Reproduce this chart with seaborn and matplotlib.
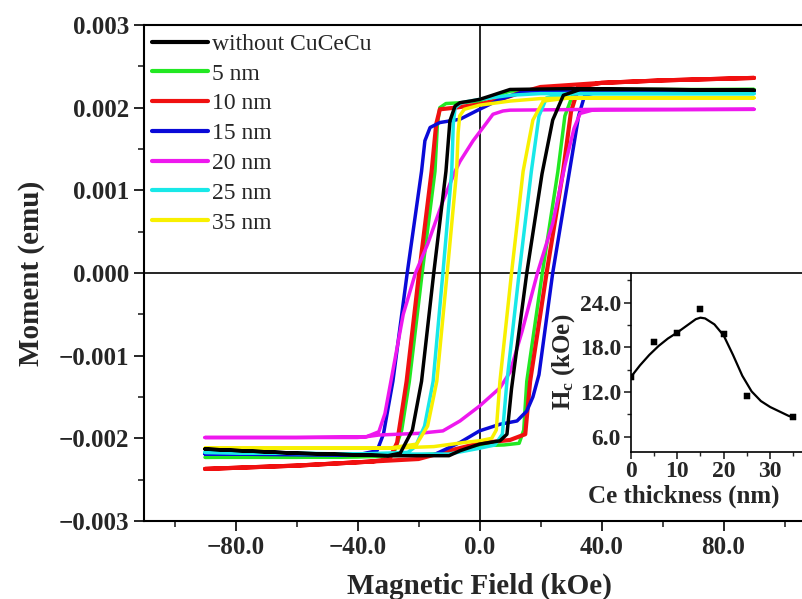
import numpy as np
import pandas as pd
import matplotlib
matplotlib.use("Agg")
import matplotlib.pyplot as plt
import seaborn as sns
from matplotlib.ticker import MultipleLocator, FuncFormatter

# ---------------- data (field in kOe, moment in 1e-3 emu) ----------------
samples = ["without CuCeCu", "5 nm", "10 nm", "15 nm", "20 nm", "25 nm", "35 nm"]
colors = ["#000000", "#22e822", "#f01010", "#0a0ad8", "#ee18ee", "#18e8e8", "#f8f000"]

black_desc_field = [90, 60, 30, 10, 6.7, 3.4, 0, -3, -6.4, -8, -9.7, -11, -15, -19, -22, -26, -30, -60, -90]
black_desc_moment = [2.21, 2.22, 2.23, 2.22, 2.18, 2.14, 2.10, 2.08, 2.06, 2.02, 1.84, 1.23, 0.0, -1.31, -1.9, -2.18, -2.21, -2.18, -2.13]
black_asc_field = [-90, -60, -30, -10, -6.4, 0, 6.7, 9, 10.5, 15.5, 20.5, 24, 27.5, 33, 60, 90]
black_asc_moment = [-2.13, -2.18, -2.21, -2.21, -2.15, -2.07, -2.03, -1.95, -1.4, 0.0, 1.2, 1.85, 2.15, 2.22, 2.22, 2.21]

green_desc_field = [90, 40, 20, 10, 5, 0, -6, -11, -13, -13.8, -14.6, -18.8, -23, -25.5, -28, -32, -60, -90]
green_desc_moment = [2.22, 2.22, 2.22, 2.2, 2.14, 2.08, 2.06, 2.05, 2.0, 1.8, 1.23, 0.0, -1.31, -1.9, -2.17, -2.22, -2.23, -2.23]
green_asc_field = [-90, -40, -20, -10, -5, 0, 8, 13, 14.5, 15.5, 20.6, 25.7, 28, 30.5, 35, 90]
green_asc_moment = [-2.23, -2.22, -2.2, -2.18, -2.12, -2.09, -2.08, -2.06, -1.9, -1.31, 0.0, 1.23, 1.9, 2.15, 2.21, 2.22]

red_desc_field = [90, 60, 40, 20, 13.4, 6.7, 0, -8, -13, -14.2, -15.7, -19.8, -23.9, -27, -29.5, -35, -60, -90]
red_desc_moment = [2.36, 2.33, 2.3, 2.25, 2.18, 2.1, 2.04, 2.0, 1.98, 1.8, 1.23, 0.0, -1.31, -2.05, -2.25, -2.28, -2.33, -2.37]
red_asc_field = [-90, -60, -35, -20, -10, 0, 10, 15, 16.6, 22, 27.4, 30, 32.5, 40, 60, 90]
red_asc_moment = [-2.37, -2.33, -2.28, -2.25, -2.15, -2.06, -2.02, -1.95, -1.31, 0.0, 1.23, 1.95, 2.25, 2.3, 2.33, 2.36]

blue_desc_field = [90, 40, 15, 6.7, 0, -6.4, -13, -16.2, -17.9, -19, -23.7, -28.4, -31.5, -33.6, -40, -90]
blue_desc_moment = [2.2, 2.21, 2.2, 2.1, 1.98, 1.86, 1.82, 1.76, 1.6, 1.23, 0.0, -1.31, -1.95, -2.15, -2.2, -2.19]
blue_asc_field = [-90, -40, -15, -6.4, 0, 6.7, 12.3, 15.5, 17.5, 19.5, 24, 29.5, 32.5, 34.5, 40, 90]
blue_asc_moment = [-2.19, -2.2, -2.2, -2.05, -1.91, -1.83, -1.79, -1.67, -1.5, -1.23, 0.0, 1.23, 1.9, 2.15, 2.2, 2.2]

magenta_desc_field = [90, 40, 10, 7.7, 4.4, 2.4, -2.1, -6.4, -8, -12, -17, -21, -25, -28.5, -31, -33, -37, -60, -90]
magenta_desc_moment = [1.98, 1.98, 1.97, 1.96, 1.92, 1.82, 1.6, 1.35, 1.23, 0.87, 0.35, 0.0, -0.5, -1.2, -1.7, -1.92, -1.98, -1.99, -1.99]
magenta_asc_field = [-90, -40, -37, -33, -20, -12, -6.4, 0, 6.7, 10, 14, 19, 24, 28, 31, 33, 37, 90]
magenta_asc_moment = [-1.99, -1.99, -1.98, -1.96, -1.94, -1.91, -1.79, -1.61, -1.39, -1.2, -0.7, 0.0, 0.6, 1.3, 1.75, 1.93, 1.97, 1.98]

cyan_desc_field = [90, 40, 20, 10, 0, -6, -8, -8.6, -9.1, -12, -15.2, -18, -21, -23.5, -40, -90]
cyan_desc_moment = [2.17, 2.17, 2.17, 2.15, 2.1, 2.06, 2.0, 1.8, 1.23, 0.0, -1.31, -1.85, -2.1, -2.17, -2.19, -2.17]
cyan_asc_field = [-90, -40, -10, 0, 5, 7.5, 9, 13, 17, 19.5, 22, 30, 90]
cyan_asc_moment = [-2.17, -2.19, -2.19, -2.12, -2.08, -1.95, -1.31, 0.0, 1.23, 1.9, 2.12, 2.17, 2.17]

yellow_desc_field = [90, 40, 20, 10, 0, -5, -6.5, -7, -7.5, -10.6, -14, -17, -20.6, -30, -90]
yellow_desc_moment = [2.12, 2.12, 2.11, 2.08, 2.03, 1.98, 1.9, 1.7, 1.23, 0.0, -1.31, -1.85, -2.07, -2.12, -2.12]
yellow_asc_field = [-90, -30, -15, -5, 0, 4, 5.5, 6.7, 10.5, 14.3, 17.5, 20.9, 30, 90]
yellow_asc_moment = [-2.12, -2.12, -2.1, -2.05, -2.03, -2.0, -1.9, -1.31, 0.0, 1.23, 1.85, 2.08, 2.12, 2.12]

# inset: coercivity vs Ce thickness
ce_thickness = [0, 5, 10, 15, 20, 25, 35]
hc_values = [14.0, 18.7, 19.9, 23.1, 19.8, 11.5, 8.6]
fit_thickness = [0, 2, 4, 6, 8, 10, 12, 14, 15, 16, 18, 20, 22, 24, 26, 28, 30, 32, 34, 35]
fit_hc = [14.0, 15.6, 17.0, 18.2, 19.2, 20.0, 20.9, 21.8, 22.0, 21.9, 21.1, 19.6, 17.0, 14.2, 12.1, 10.8, 10.0, 9.4, 8.8, 8.6]

xticks_main = [-80, -40, 0, 40, 80]
yticks_main = [-0.003, -0.002, -0.001, 0.0, 0.001, 0.002, 0.003]

# ---------------- build table ----------------
branches = [
    (black_desc_field, black_desc_moment, black_asc_field, black_asc_moment),
    (green_desc_field, green_desc_moment, green_asc_field, green_asc_moment),
    (red_desc_field, red_desc_moment, red_asc_field, red_asc_moment),
    (blue_desc_field, blue_desc_moment, blue_asc_field, blue_asc_moment),
    (magenta_desc_field, magenta_desc_moment, magenta_asc_field, magenta_asc_moment),
    (cyan_desc_field, cyan_desc_moment, cyan_asc_field, cyan_asc_moment),
    (yellow_desc_field, yellow_desc_moment, yellow_asc_field, yellow_asc_moment),
]
rows = []
for name, (df_, dm_, af_, am_) in zip(samples, branches):
    fld = list(df_) + list(af_)
    mom = list(dm_) + list(am_)
    for i, (f, m) in enumerate(zip(fld, mom)):
        rows.append({"sample": name, "step": i, "field": f, "moment": m * 1e-3})
loops = pd.DataFrame(rows)

# ---------------- style ----------------
sns.set_style("white")
plt.rcParams["font.family"] = ["Liberation Serif", "DejaVu Serif"]
plt.rcParams["mathtext.fontset"] = "custom"
plt.rcParams["mathtext.rm"] = "Liberation Serif:bold"
plt.rcParams["mathtext.it"] = "Liberation Serif:bold"
plt.rcParams["mathtext.bf"] = "Liberation Serif:bold"
plt.rcParams["axes.unicode_minus"] = True

fig = plt.figure(figsize=(8.02, 5.99), dpi=100)
ax = fig.add_axes([144 / 802, 1 - 521 / 599, (815 - 144) / 802, (521 - 25) / 599])

sns.lineplot(data=loops, x="field", y="moment", hue="sample", hue_order=samples,
             palette=colors, sort=False, estimator=None, linewidth=2.5, ax=ax,
             legend=True)
for ln in ax.lines:
    ln.set_solid_joinstyle("round")
    ln.set_solid_capstyle("round")
ax.lines[2].set_linewidth(3.0)
ax.lines[0].set_zorder(4)

ax.axhline(0, color="black", lw=1.2, zorder=1)
ax.axvline(0, color="black", lw=1.2, zorder=1)

ax.set_xlim(-110, 110)
ax.set_ylim(-0.003, 0.003)

def minus_fmt(fmt):
    return FuncFormatter(lambda v, p: (fmt % v).replace("-", "\u2212") if abs(v) > 1e-12 else fmt % 0.0)

ax.set_xticks(xticks_main)
ax.xaxis.set_minor_locator(MultipleLocator(20))
ax.set_yticks(yticks_main)
ax.yaxis.set_minor_locator(MultipleLocator(0.0005))
ax.xaxis.set_major_formatter(minus_fmt("%.1f"))
ax.yaxis.set_major_formatter(minus_fmt("%.3f"))
ax.tick_params(axis="both", which="major", direction="out", length=7, width=1.4,
               labelsize=18, bottom=True, left=True, top=False, right=False)
ax.tick_params(axis="both", which="minor", direction="out", length=4, width=1.2,
               bottom=True, left=True, top=False, right=False)
for lab in ax.get_xticklabels() + ax.get_yticklabels():
    lab.set_fontweight("bold")
for side in ["left", "bottom", "top"]:
    ax.spines[side].set_visible(True)
    ax.spines[side].set_color("black")
    ax.spines[side].set_linewidth(1.5)
ax.spines["right"].set_visible(False)

ax.set_xlabel("Magnetic Field (kOe)", fontsize=21, fontweight="bold", labelpad=10)
ax.set_ylabel("Moment (emu)", fontsize=21, fontweight="bold", labelpad=10)

handles, labels = ax.get_legend_handles_labels()
for h in handles:
    h.set_linewidth(3)
ax.legend(handles, labels, loc="upper left", bbox_to_anchor=(0.0, 1.0),
          frameon=False, fontsize=17, handlelength=2.35, handletextpad=0.2,
          labelspacing=0.35, borderaxespad=0.25, borderpad=0.1)

# ---------------- inset ----------------
ins = fig.add_axes([630.7 / 802, 1 - 451.7 / 599, 37 * 4.65 / 802, (451.7 - 273) / 599])
ins.set_facecolor("none")
sns.lineplot(x=fit_thickness, y=fit_hc, color="black", lw=1.6, ax=ins, sort=False,
             estimator=None)
sns.scatterplot(x=ce_thickness, y=hc_values, marker="s", s=20, color="black",
                edgecolor="black", ax=ins, zorder=3)
ins.set_xlim(0, 37)
ins.set_ylim(4, 28)
ins.set_xticks([0, 10, 20, 30])
ins.xaxis.set_minor_locator(MultipleLocator(5))
ins.set_yticks([6, 12, 18, 24])
ins.yaxis.set_minor_locator(MultipleLocator(3))
ins.yaxis.set_major_formatter(FuncFormatter(lambda v, p: "%.1f" % v))
ins.tick_params(axis="both", which="major", direction="out", length=5, width=1.2,
                labelsize=17, bottom=True, left=True, pad=2)
ins.tick_params(axis="both", which="minor", direction="out", length=3, width=1.0,
                bottom=True, left=True)
for lab in ins.get_xticklabels() + ins.get_yticklabels():
    lab.set_fontweight("bold")
for side in ["left", "bottom"]:
    ins.spines[side].set_visible(True)
    ins.spines[side].set_color("black")
    ins.spines[side].set_linewidth(1.2)
ins.spines["top"].set_visible(False)
ins.spines["right"].set_visible(False)
ins.set_xlabel("Ce thickness (nm)", fontsize=18, fontweight="bold")
ins.xaxis.set_label_coords(0.31, -0.185)
ins.set_ylabel(r"H$_{c}$ (kOe)", fontsize=18, fontweight="bold", labelpad=2)

fig.savefig("out.png", dpi=100)
